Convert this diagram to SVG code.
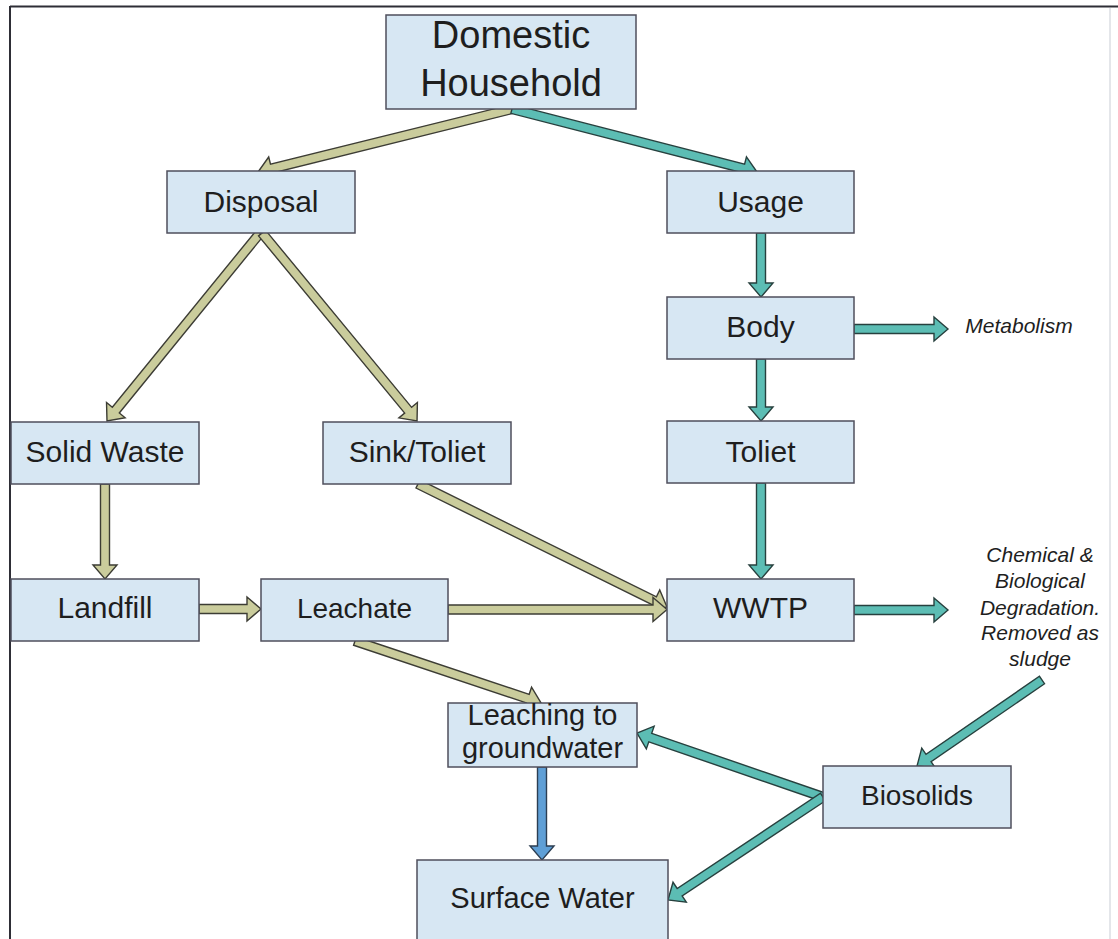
<svg xmlns="http://www.w3.org/2000/svg" width="1118" height="939" viewBox="0 0 1118 939">
<defs>
<style>
.box{fill:#d7e7f3;stroke:#4f4f5c;stroke-width:1.5}
.lbl{font-family:"Liberation Sans",Arial,sans-serif;font-size:30px;fill:#1e1e1e;text-anchor:middle}
.big{font-size:38px}
.note{font-family:"Liberation Sans",Arial,sans-serif;font-size:21px;font-style:italic;fill:#1e1e1e;text-anchor:middle}
.ol{fill:#cacc9c;stroke:#3c3c34;stroke-width:1.4;stroke-linejoin:miter}
.tl{fill:#5cbdb4;stroke:#27403e;stroke-width:1.4}
.bl{fill:#5f9fd6;stroke:#2c3e52;stroke-width:1.4}
</style>
</defs>
<rect x="0" y="0" width="1118" height="939" fill="#ffffff"/>
<g id="frame">
<line x1="10" y1="6.5" x2="1118" y2="6.5" stroke="#2e2e36" stroke-width="2"/>
<line x1="10" y1="6" x2="10" y2="939" stroke="#2e2e36" stroke-width="2"/>
<line x1="1110" y1="8" x2="1110" y2="939" stroke="#e4e6ea" stroke-width="2"/>
</g>
<g id="connectors">
<polygon class="ol" transform="translate(512,109) rotate(166.07)" points="0,-4.5 247.7,-4.5 247.7,-12 261.7,0 247.7,12 247.7,4.5 0,4.5"/>
<polygon class="tl" transform="translate(512,109) rotate(14.42)" points="0,-4.5 239,-4.5 239,-12 253,0 239,12 239,4.5 0,4.5"/>
<polygon class="ol" transform="translate(260,233) rotate(129.14)" points="0,-4.5 228.4,-4.5 228.4,-12 242.4,0 228.4,12 228.4,4.5 0,4.5"/>
<polygon class="ol" transform="translate(262,233) rotate(50.49)" points="0,-4.5 229.7,-4.5 229.7,-12 243.7,0 229.7,12 229.7,4.5 0,4.5"/>
<polygon class="tl" transform="translate(761,233) rotate(90)" points="0,-4.5 50,-4.5 50,-12 64,0 50,12 50,4.5 0,4.5"/>
<polygon class="tl" transform="translate(854,329)" points="0,-4.5 80,-4.5 80,-12 94,0 80,12 80,4.5 0,4.5"/>
<polygon class="tl" transform="translate(761,359) rotate(90)" points="0,-4.5 48,-4.5 48,-12 62,0 48,12 48,4.5 0,4.5"/>
<polygon class="tl" transform="translate(761,483) rotate(90)" points="0,-4.5 82,-4.5 82,-12 96,0 82,12 82,4.5 0,4.5"/>
<polygon class="ol" transform="translate(105,484) rotate(90)" points="0,-4.5 81,-4.5 81,-12 95,0 81,12 81,4.5 0,4.5"/>
<polygon class="ol" transform="translate(199,609)" points="0,-4.5 48,-4.5 48,-12 62,0 48,12 48,4.5 0,4.5"/>
<polygon class="ol" transform="translate(418,484) rotate(26.29)" points="0,-4.5 263.7,-4.5 263.7,-12 277.7,0 263.7,12 263.7,4.5 0,4.5"/>
<polygon class="ol" transform="translate(448,609.5)" points="0,-4.5 205,-4.5 205,-12 219,0 205,12 205,4.5 0,4.5"/>
<polygon class="ol" transform="translate(355,641) rotate(18.43)" points="0,-4.5 182.1,-4.5 182.1,-12 196.1,0 182.1,12 182.1,4.5 0,4.5"/>
<polygon class="tl" transform="translate(854,610)" points="0,-4.5 80,-4.5 80,-12 94,0 80,12 80,4.5 0,4.5"/>
<polygon class="tl" transform="translate(1042,680) rotate(145.47)" points="0,-4.5 137.7,-4.5 137.7,-12 151.7,0 137.7,12 137.7,4.5 0,4.5"/>
<polygon class="tl" transform="translate(823,797) rotate(-161.01)" points="0,-4.5 182.7,-4.5 182.7,-12 196.7,0 182.7,12 182.7,4.5 0,4.5"/>
<polygon class="tl" transform="translate(823,797) rotate(146.4)" points="0,-4.5 172.1,-4.5 172.1,-12 186.1,0 172.1,12 172.1,4.5 0,4.5"/>
<polygon class="bl" transform="translate(542,767) rotate(90)" points="0,-4.5 79,-4.5 79,-12 93,0 79,12 79,4.5 0,4.5"/>
</g>
<g id="domestic">
<rect class="box" x="386" y="15" width="250" height="94"/>
<text class="lbl big" x="511" y="48">Domestic</text>
<text class="lbl big" x="511" y="96">Household</text>
</g>
<g id="disposal">
<rect class="box" x="167" y="171" width="188" height="62"/>
<text class="lbl" x="261" y="212">Disposal</text>
</g>
<g id="usage">
<rect class="box" x="667" y="171" width="187" height="62"/>
<text class="lbl" x="760.5" y="212">Usage</text>
</g>
<g id="body">
<rect class="box" x="667" y="297" width="187" height="62"/>
<text class="lbl" x="760.5" y="337">Body</text>
</g>
<g id="toliet">
<rect class="box" x="667" y="421" width="187" height="62"/>
<text class="lbl" x="760.5" y="462">Toliet</text>
</g>
<g id="solid-waste">
<rect class="box" x="11" y="422" width="188" height="62"/>
<text class="lbl" x="105" y="462">Solid Waste</text>
</g>
<g id="sink-toliet">
<rect class="box" x="323" y="422" width="188" height="62"/>
<text class="lbl" x="417" y="462">Sink/Toliet</text>
</g>
<g id="landfill">
<rect class="box" x="11" y="579" width="188" height="62"/>
<text class="lbl" x="105" y="618">Landfill</text>
</g>
<g id="leachate">
<rect class="box" x="261" y="579" width="187" height="62"/>
<text class="lbl" x="354.5" y="618" style="font-size:28px">Leachate</text>
</g>
<g id="wwtp">
<rect class="box" x="667" y="579" width="187" height="62"/>
<text class="lbl" x="760.5" y="618">WWTP</text>
</g>
<g id="leaching">
<rect class="box" x="448" y="703" width="189" height="64"/>
<text class="lbl" x="542.5" y="725" style="font-size:29px">Leaching to</text>
<text class="lbl" x="542.5" y="758" style="font-size:29px">groundwater</text>
</g>
<g id="biosolids">
<rect class="box" x="823" y="766" width="188" height="62"/>
<text class="lbl" x="917" y="805" style="font-size:28px">Biosolids</text>
</g>
<g id="surface-water">
<rect class="box" x="417" y="860" width="251" height="82"/>
<text class="lbl" x="542.5" y="908" style="font-size:29px">Surface Water</text>
</g>
<g id="metabolism">
<text class="note" x="1019" y="333">Metabolism</text>
</g>
<g id="degradation">
<text class="note" x="1040" y="562">Chemical &amp;</text>
<text class="note" x="1040" y="588">Biological</text>
<text class="note" x="1040" y="615">Degradation.</text>
<text class="note" x="1040" y="640">Removed as</text>
<text class="note" x="1040" y="666">sludge</text>
</g>
</svg>
